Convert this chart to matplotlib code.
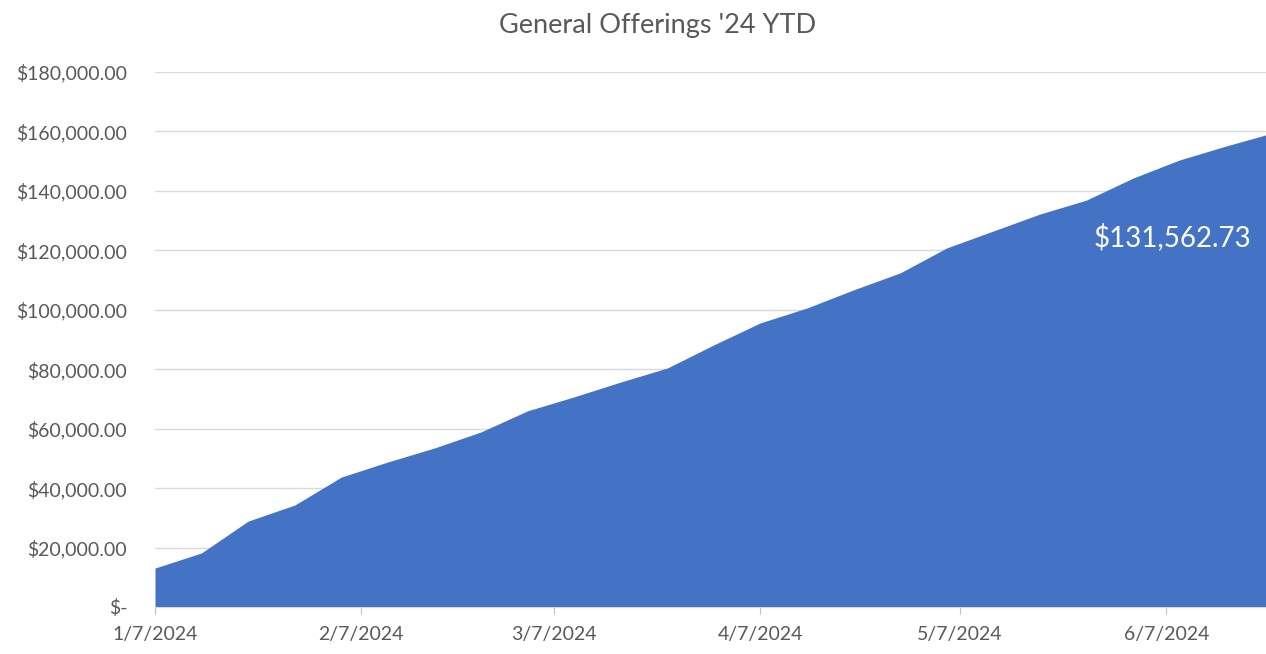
import matplotlib
matplotlib.use("Agg")
import matplotlib.pyplot as plt
import matplotlib.dates as mdates
import pandas as pd
from matplotlib.ticker import FuncFormatter

# weekly running total of general offerings
weeks = pd.date_range("2024-01-07", "2024-06-23", freq="7D")
totals = [13100, 18200, 28900, 34300, 43700, 48800, 53500, 58900, 66000,
          70700, 75700, 80400, 88200, 95600, 100600, 106700, 112400, 120800,
          126500, 132200, 136900, 144300, 150400, 155100, 159500]
month_ticks = pd.to_datetime(["2024-01-07", "2024-02-07", "2024-03-07",
                              "2024-04-07", "2024-05-07", "2024-06-07"])
callout = "$131,562.73"

plt.rcParams['font.family'] = ['Lato', 'DejaVu Sans']
grey = '#595959'

fig = plt.figure(figsize=(12.66, 6.54), dpi=100)
x0 = 155 / 1266
xend = 155 + 168 * 6.653
ax = fig.add_axes([x0, 1 - 607 / 654, (xend - 155) / 1266, (607 - 72) / 654])

ax.fill_between(weeks, totals, 0, color='#4472C4', lw=0)
ax.set_xlim(weeks[0], weeks[-1])
ax.set_ylim(0, 180000)
ax.set_yticks(range(0, 180001, 20000))


def money(v, pos):
    if v == 0:
        return '$-'
    return '${:,.2f}'.format(v)


ax.yaxis.set_major_formatter(FuncFormatter(money))
ax.set_xticks(month_ticks)
ax.xaxis.set_major_formatter(mdates.DateFormatter('%-m/%-d/%Y'))

ax.grid(axis='y', color='#d9d9d9', lw=1)
ax.set_axisbelow(True)
for s in ['top', 'right', 'left']:
    ax.spines[s].set_visible(False)
ax.spines['bottom'].set_color('#d9d9d9')
ax.tick_params(axis='y', length=0, pad=20, labelsize=14, labelcolor=grey)
ax.tick_params(axis='x', length=5, color='#bfbfbf', pad=9, labelsize=14,
               labelcolor=grey)

fig.text(658 / 1266, 1 - 26 / 654, "General Offerings '24 YTD", ha='center',
         va='center', fontsize=19.5, color=grey)
ax.text(pd.Timestamp("2024-06-08"), 124500, callout, ha='center', va='center',
        fontsize=20, color='white')

plt.savefig('out.png', dpi=100)
